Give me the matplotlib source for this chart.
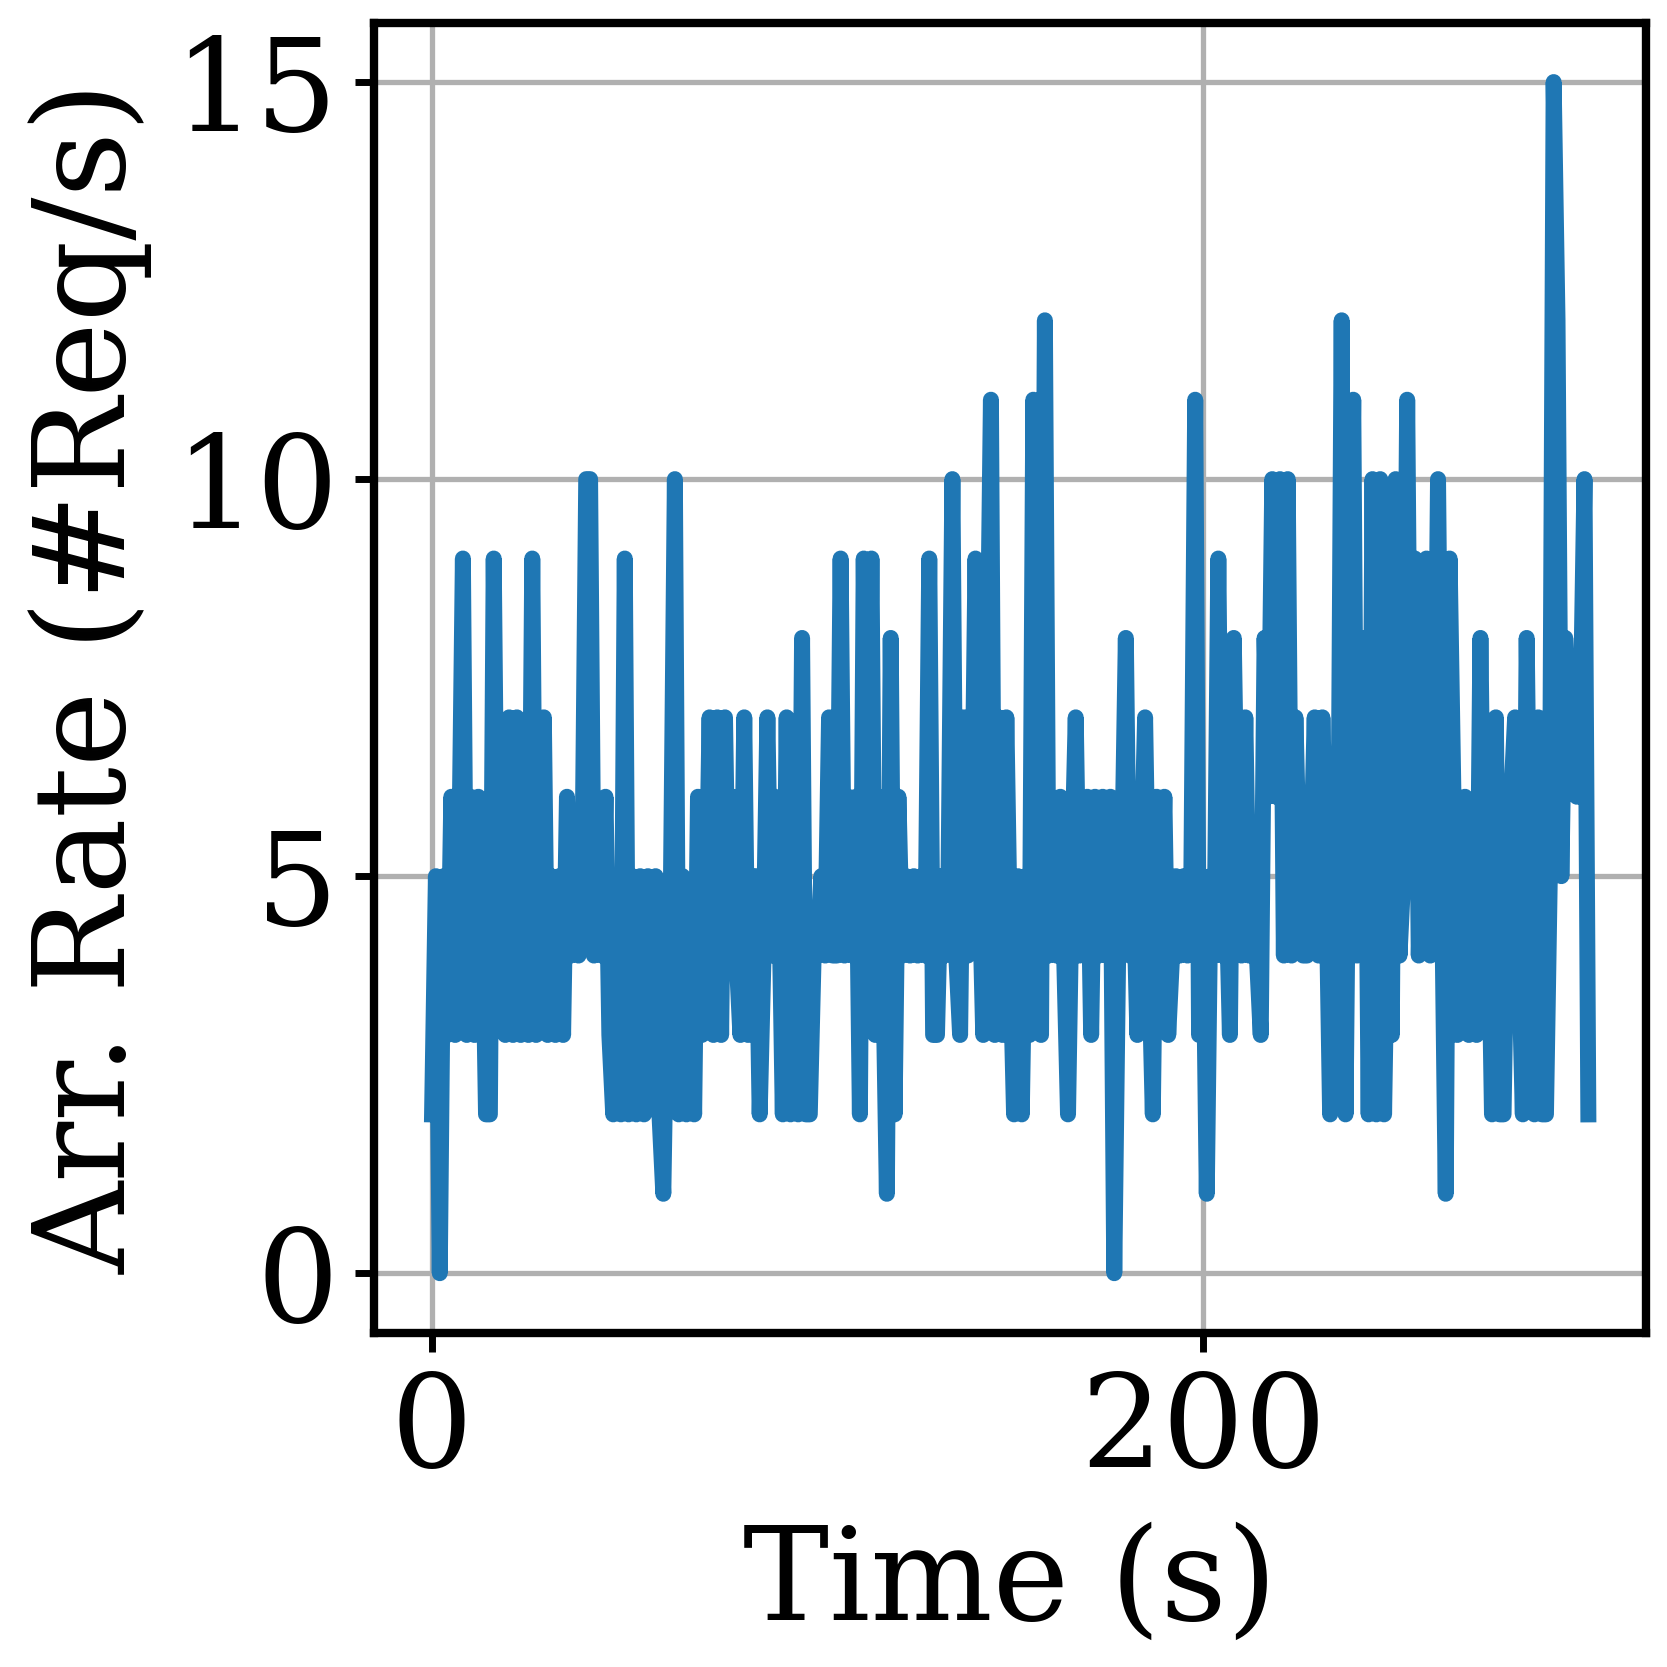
import matplotlib
matplotlib.use("Agg")
import matplotlib.pyplot as plt

# arrival rate per second (t = 0..300)
rate = [
    2, 5, 0, 5, 3, 6, 3, 5, 9, 3,
    6, 3, 6, 5, 2, 2, 9, 4, 6, 3,
    7, 3, 7, 3, 5, 3, 9, 3, 5, 7,
    3, 5, 3, 5, 3, 6, 4, 5, 4, 5,
    10, 10, 4, 5, 4, 6, 3, 2, 5, 2,
    9, 2, 5, 2, 5, 2, 5, 3, 5, 2,
    1, 4, 5, 10, 2, 5, 2, 4, 2, 6,
    3, 4, 7, 3, 7, 3, 7, 4, 6, 4,
    3, 7, 3, 5, 5, 2, 4, 7, 4, 6,
    5, 2, 7, 2, 5, 2, 8, 2, 2, 4,
    4, 5, 4, 7, 4, 4, 9, 4, 6, 4,
    6, 2, 9, 4, 9, 3, 6, 4, 1, 8,
    2, 6, 4, 5, 4, 5, 4, 5, 4, 9,
    3, 3, 5, 4, 5, 10, 4, 3, 7, 4,
    5, 9, 5, 3, 7, 11, 3, 7, 3, 7,
    4, 2, 5, 2, 5, 3, 11, 4, 3, 12,
    4, 5, 4, 6, 4, 2, 5, 7, 4, 5,
    6, 3, 6, 4, 6, 4, 6, 0, 4, 5,
    8, 4, 5, 3, 5, 7, 4, 2, 6, 4,
    6, 3, 4, 5, 4, 5, 4, 5, 11, 3,
    5, 1, 5, 4, 9, 4, 5, 3, 8, 5,
    4, 7, 4, 5, 4, 3, 8, 6, 10, 6,
    10, 4, 10, 4, 7, 5, 4, 4, 5, 7,
    4, 7, 5, 2, 5, 4, 12, 2, 7, 11,
    4, 6, 8, 2, 10, 2, 10, 2, 5, 3,
    10, 4, 5, 11, 5, 9, 4, 6, 9, 4,
    5, 10, 5, 1, 9, 6, 3, 5, 6, 3,
    5, 3, 8, 4, 5, 2, 7, 2, 2, 5,
    6, 7, 4, 2, 8, 4, 2, 7, 2, 2,
    5, 15, 12, 5, 8, 7, 7, 6, 7, 10,
    2,
]
time = list(range(len(rate)))

x_ticks = [0, 200]
y_ticks = [0, 5, 10, 15]

plt.rcParams["font.family"] = ["DejaVu Serif"]

fig = plt.figure(figsize=(16.67, 16.67), dpi=100)
ax = fig.add_axes([0.2245, 0.2005, 0.763, 0.786])

ax.plot(time, rate, color="#1f77b4", linewidth=11.5)

ax.set_xticks(x_ticks)
ax.set_yticks(y_ticks)
ax.grid(True, color="#b0b0b0", linewidth=3.8)
ax.set_axisbelow(True)

for s in ax.spines.values():
    s.set_linewidth(6.0)
    s.set_color("black")
ax.tick_params(axis="both", labelsize=93, length=14, width=5, pad=12)
ax.tick_params(axis="x", pad=12)

ax.set_xlabel("Time (s)", fontsize=93, labelpad=20)
ax.set_ylabel("Arr. Rate (#Req/s)", fontsize=92, labelpad=15)

fig.savefig("out.png", dpi=100)
